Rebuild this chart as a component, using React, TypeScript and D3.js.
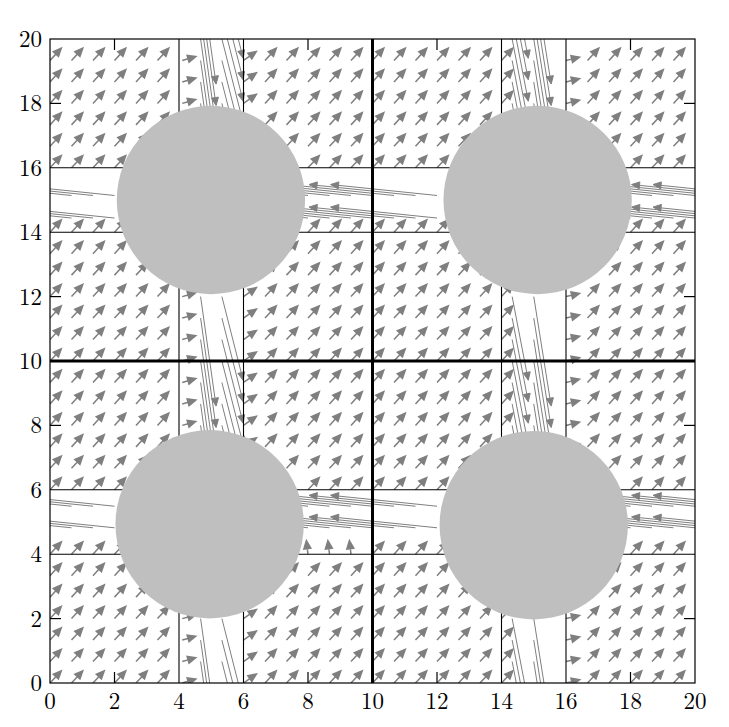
import React, { useEffect, useRef } from "react";
import * as d3 from "d3";

// axis ticks and frame lines
const ticks = [0, 2, 4, 6, 8, 10, 12, 14, 16, 18, 20];
const innerTicks = [2, 8, 12, 18];
const thinLines = [4, 6, 14, 16];
const thickLines = [10];

// the domain is 4 cells (quadrants), each with a circular obstacle
const cellX0 = [0, 10, 0, 10];
const cellY0 = [10, 10, 0, 0];
const cellCol = [0, 1, 0, 1];
const cellRow = [0, 0, 1, 1];
const obstacleX = [4.99, 5.12, 4.95, 5.0]; // cell-local
const obstacleY = [5.0, 5.0, 4.93, 4.9];
const obstacleR = 2.92;

// sample points (arrow tails) inside a cell
const samples = [0, 0.667, 1.333, 2, 2.667, 3.333, 4, 4.667, 5.333, 6, 6.667, 7.333, 8, 8.667, 9.333];
const channelSamples = [4.667, 5.333];

// slow flow in the blocks
const blockU = 0.35;
const blockV = 0.38;

// vertical channel, per cell column
const vChanX = [[4.67, 5.33], [4.33, 5.0]];
const vChanU = [[0.48, 0.66], [0.5, 0.54]];
const vChanV = [[-3.4, -2.6], [-2.6, -3.4]];

// horizontal channel, per cell row
const hChanY = [[5.14, 4.44], [5.49, 4.82]];
const hChanU = [-3.3, -3.3];
const hChanV = [0.34, 0.34];

// columns next to the vertical channel, per cell column
const sideColX = [[4.1, 6.0], [6.0]];
const sideColU = [[0.42, 0.4], [0.42]];
const sideColV = [[0.12, 0.28], [0.1]];
// row under the horizontal channel, per cell (with its x span)
const sideRowY = [-1, -1, 4.0, -1];
const sideRowFrom = [0, 0, 6, 0];
const sideRowU = [0, 0, -0.05, 0];
const sideRowV = [0, 0, 0.42, 0];

type Arrow = { x: number; y: number; u: number; v: number };

function cellArrows(c: number): Arrow[] {
  const col = cellCol[c], row = cellRow[c];
  const isChan = (s: number) => channelSamples.some((k) => Math.abs(k - s) < 0.01);
  const out: Arrow[] = [];

  samples.forEach((lx) => samples.forEach((ly) => {
    if (isChan(lx) || isChan(ly)) return;
    const si = sideColX[col].findIndex((sx) => Math.abs(sx - lx) < 0.2);
    if (si >= 0) out.push({ x: sideColX[col][si], y: ly, u: sideColU[col][si], v: sideColV[col][si] });
    else if (Math.abs(sideRowY[c] - ly) < 0.2 && lx >= sideRowFrom[c])
      out.push({ x: lx, y: sideRowY[c], u: sideRowU[c], v: sideRowV[c] });
    else out.push({ x: lx, y: ly, u: blockU, v: blockV });
  }));

  vChanX[col].forEach((vx, i) => samples.forEach((ly) =>
    out.push({ x: vx, y: ly, u: vChanU[col][i], v: vChanV[col][i] })));
  hChanY[row].forEach((hy) => samples.forEach((lx) =>
    out.push({ x: lx, y: hy, u: hChanU[row], v: hChanV[row] })));

  // no samples inside the obstacle
  return out.filter((a) => Math.hypot(a.x - obstacleX[c], a.y - obstacleY[c]) > obstacleR - 0.3);
}

const App = () => {
  const svgRef = useRef<SVGSVGElement>(null);

  useEffect(() => {
    const svg = d3.select(svgRef.current);
    svg.selectAll("*").remove();

    const x = d3.scaleLinear().domain([0, 20]).range([50, 695]);
    const y = d3.scaleLinear().domain([0, 20]).range([683, 39]);

    svg.append("defs").append("clipPath").attr("id", "plot")
      .append("rect")
      .attr("x", x(0)).attr("y", y(20))
      .attr("width", x(20) - x(0)).attr("height", y(0) - y(20));

    // periodic copies so long arrows wrap in from outside
    const arrows: Arrow[] = [];
    cellX0.forEach((x0, c) => {
      const local = cellArrows(c);
      [-20, 0, 20].forEach((ox) => [-20, 0, 20].forEach((oy) => {
        local.forEach((a) => {
          const ax = a.x + x0 + ox, ay = a.y + cellY0[c] + oy;
          const e = 1e-6;
          if (Math.min(ax, ax + a.u) < 20 - e && Math.max(ax, ax + a.u) > e &&
              Math.min(ay, ay + a.v) < 20 - e && Math.max(ay, ay + a.v) > e) {
            arrows.push({ x: ax, y: ay, u: a.u, v: a.v });
          }
        });
      }));
    });

    const headL = 8, headW = 3.5;
    const arrowPath = (a: Arrow) => {
      const sx = x(a.x), sy = y(a.y), ex = x(a.x + a.u), ey = y(a.y + a.v);
      const len = Math.hypot(ex - sx, ey - sy);
      const ux = (ex - sx) / len, uy = (ey - sy) / len;
      const bx = ex - ux * headL, by = ey - uy * headL;
      return `M${sx},${sy}L${bx},${by}M${ex},${ey}L${bx - uy * headW},${by + ux * headW}L${bx + uy * headW},${by - ux * headW}Z`;
    };

    svg.append("g").attr("clip-path", "url(#plot)")
      .selectAll("path").data(arrows).join("path")
      .attr("d", arrowPath)
      .attr("fill", "#7f7f7f")
      .attr("stroke", "#7f7f7f")
      .attr("stroke-width", (a) => (Math.hypot(a.u, a.v) > 1 ? 1.0 : 1.5));

    // region borders
    const lines = svg.append("g").attr("stroke", "black").attr("fill", "none");
    thinLines.forEach((t) => {
      lines.append("line").attr("x1", x(t)).attr("x2", x(t)).attr("y1", y(0)).attr("y2", y(20)).attr("stroke-width", 1.1);
      lines.append("line").attr("x1", x(0)).attr("x2", x(20)).attr("y1", y(t)).attr("y2", y(t)).attr("stroke-width", 1.1);
    });
    thickLines.forEach((t) => {
      lines.append("line").attr("x1", x(t)).attr("x2", x(t)).attr("y1", y(0)).attr("y2", y(20)).attr("stroke-width", 3);
      lines.append("line").attr("x1", x(0)).attr("x2", x(20)).attr("y1", y(t)).attr("y2", y(t)).attr("stroke-width", 3);
    });

    // obstacles
    svg.append("g").selectAll("circle").data(cellX0).join("circle")
      .attr("cx", (x0, c) => x(x0 + obstacleX[c]))
      .attr("cy", (x0, c) => y(cellY0[c] + obstacleY[c]))
      .attr("r", x(obstacleR) - x(0))
      .attr("fill", "#bfbfbf");

    // frame and inner ticks
    const frame = svg.append("g").attr("stroke", "black").attr("stroke-width", 1.2).attr("fill", "none");
    frame.append("rect")
      .attr("x", x(0)).attr("y", y(20))
      .attr("width", x(20) - x(0)).attr("height", y(0) - y(20));
    const tl = 11;
    innerTicks.forEach((t) => {
      frame.append("line").attr("x1", x(t)).attr("x2", x(t)).attr("y1", y(0)).attr("y2", y(0) - tl);
      frame.append("line").attr("x1", x(t)).attr("x2", x(t)).attr("y1", y(20)).attr("y2", y(20) + tl);
      frame.append("line").attr("x1", x(0)).attr("x2", x(0) + tl).attr("y1", y(t)).attr("y2", y(t));
      frame.append("line").attr("x1", x(20)).attr("x2", x(20) - tl).attr("y1", y(t)).attr("y2", y(t));
    });

    // tick labels
    const font = "'Latin Modern Roman', 'CMU Serif', 'Liberation Serif', serif";
    svg.append("g").selectAll("text").data(ticks).join("text")
      .attr("x", (d) => x(d))
      .attr("y", 709)
      .attr("text-anchor", "middle")
      .style("font-family", font)
      .style("font-size", "23px")
      .text((d) => d);
    svg.append("g").selectAll("text").data(ticks).join("text")
      .attr("x", 42)
      .attr("y", (d) => y(d) + 8)
      .attr("text-anchor", "end")
      .style("font-family", font)
      .style("font-size", "23px")
      .text((d) => d);
  }, []);

  return (
    <div style={{ position: "absolute", left: 0, top: 0 }}>
      <svg ref={svgRef} width={729} height={727}></svg>
    </div>
  );
};

export default App;
